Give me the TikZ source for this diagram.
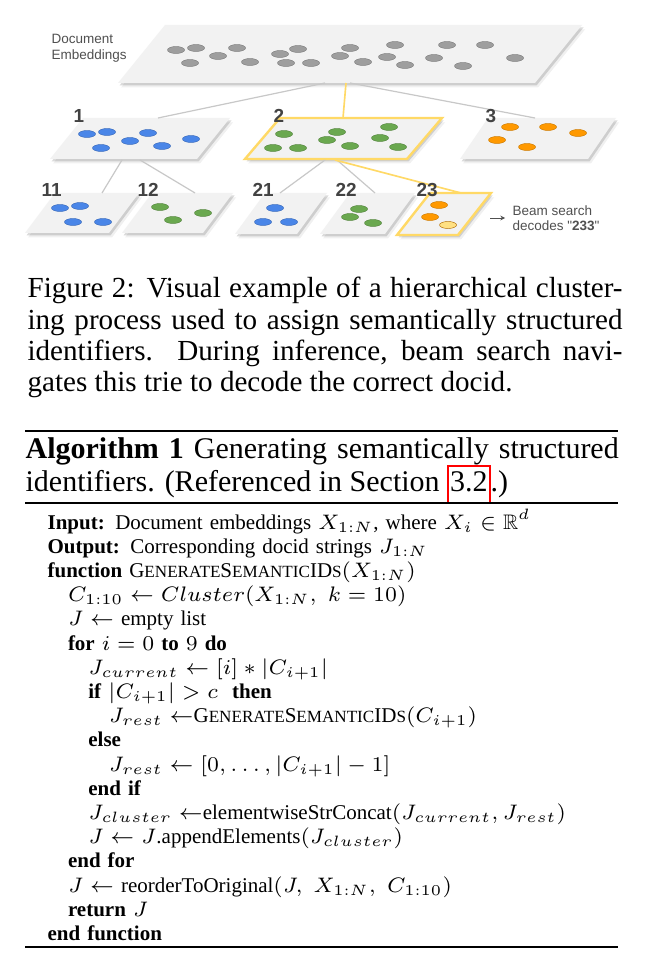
\documentclass[tikz,border=0pt]{standalone}
\usepackage{amsmath,amssymb}
\usepackage[no-math]{fontspec}
\setmainfont{Liberation Serif}
\newfontfamily\diagfont{Liberation Sans}
\usetikzlibrary{arrows.meta}

\definecolor{planegray}{HTML}{F2F2F2}
\definecolor{dotgray}{HTML}{9E9E9E}
\definecolor{dotblue}{HTML}{4A86E8}
\definecolor{dotgreen}{HTML}{6AA84F}
\definecolor{dotorange}{HTML}{FF9900}
\definecolor{dotyellow}{HTML}{FFE082}
\definecolor{hiyellow}{HTML}{FFD966}
\definecolor{linkgray}{HTML}{C8C8C8}
\definecolor{labelgray}{HTML}{424242}
\definecolor{notegray}{HTML}{505050}

\tikzset{
  plane/.style={fill=planegray},
  planeshadow/.style={fill=black, opacity=0.14},
  hilite/.style={draw=hiyellow, line width=0.8pt, line join=miter},
  link/.style={draw=linkgray, line width=0.4pt},
  hilink/.style={draw=hiyellow, line width=0.55pt},
  cluster/.style={fill=#1, draw=#1!80!black, line width=0.15pt},
  numlabel/.style={anchor=base west, inner sep=0, text=labelgray,
    font=\diagfont\bfseries\fontsize{6.3}{7}\selectfont},
  notetext/.style={anchor=base west, inner sep=0, text=notegray, align=left,
    font=\diagfont\fontsize{4.5}{5.33}\selectfont},
  captext/.style={anchor=base west, inner sep=0, text width=198.3pt, align=justify,
    font=\fontsize{9.7}{10.4}\selectfont},
  headtext/.style={anchor=base west, inner sep=0, text width=197.7pt, align=justify,
    font=\fontsize{10}{11}\selectfont},
  algtext/.style={anchor=base west, inner sep=0, text width=190pt, align=left,
    font=\fontsize{7}{8.07}\selectfont},
  toprule/.style={line width=0.8pt},
  thinrule/.style={line width=0.5pt},
  pointer/.style={draw=notegray, line width=0.3pt, -{Stealth[length=1.6pt,width=1.6pt]}}
}

% [style]{name}{x of bottom left}{y of bottom}{width}{height}{slant}
\newcommand{\clusterplane}[7][]{%
  \fill[planeshadow, opacity=0.06] (#3+3,#4+4.5) -- ++(#5,0) -- ++(#7,-#6) -- ++(-#5,0) -- cycle;
  \fill[planeshadow] (#3+1.5,#4+2.5) -- ++(#5,0) -- ++(#7,-#6) -- ++(-#5,0) -- cycle;
  \path[plane,#1] (#3,#4) coordinate (#2-bl) -- ++(#5,0) coordinate (#2-br)
    -- ++(#7,-#6) coordinate (#2-tr) -- ++(-#5,0) coordinate (#2-tl) -- cycle;
}
\newcommand{\fakesc}[1]{{\fontsize{5.7}{6}\selectfont\uppercase{#1}}}
\newcommand{\gensem}{G\fakesc{enerate}S\fakesc{emantic}ID\fakesc{s}}
\newlength{\algstep}
\setlength{\algstep}{6.8pt}
\newcommand{\ind}[1]{\hspace*{#1\algstep}}
\newcommand{\linkbox}[1]{{\setlength{\fboxsep}{0.4pt}\setlength{\fboxrule}{0.6pt}\fcolorbox{red}{white}{\strut#1}}}

\begin{document}
\begin{tikzpicture}[x=0.3333pt, y=-0.3333pt]
\fill[white] (0,0) rectangle (659,966);
\useasboundingbox (0,0) rectangle (659,966);

% cluster planes
\clusterplane{top}{118}{83}{417}{58}{47}
\clusterplane{c1}{50}{159}{147}{41}{33}
\clusterplane[hilite]{c2}{245}{159}{162}{41}{35}
\clusterplane{c3}{460}{159}{128}{41}{28}
\clusterplane{c11}{25}{233}{84}{40}{30}
\clusterplane{c12}{122}{233}{81}{40}{30}
\clusterplane{c21}{235}{234}{62}{41}{30}
\clusterplane{c22}{320}{234}{65}{41}{30}
\clusterplane[hilite]{c23}{397}{235}{61}{42}{33}

% connector ends
\coordinate (top-o1) at (325,83);  \coordinate (c1-in) at (158,118);
\coordinate (top-o2) at (346,83);  \coordinate (c2-in) at (343,118);
\coordinate (top-o3) at (350,83);  \coordinate (c3-in) at (535,118);
\coordinate (c1-o1) at (122,160);  \coordinate (c11-in) at (102,193);
\coordinate (c1-o2) at (140,160);  \coordinate (c12-in) at (195,193);
\coordinate (c2-o1) at (325,160);  \coordinate (c21-in) at (280,193);
\coordinate (c2-o2) at (337,160);  \coordinate (c22-in) at (375,193);
\coordinate (c2-o3) at (335,160);  \coordinate (c23-in) at (461,193);

\draw[link] (top-o1) -- (c1-in);
\draw[link] (top-o3) -- (c3-in);
\draw[hilink] (top-o2) -- (c2-in);
\draw[link] (c1-o1) -- (c11-in);
\draw[link] (c1-o2) -- (c12-in);
\draw[link] (c2-o1) -- (c21-in);
\draw[link] (c2-o2) -- (c22-in);
\draw[hilink] (c2-o3) -- (c23-in);

% embeddings
\foreach \x/\y in {176/50,196/48,190/63,218/56,237/48,250/62,280/54,298/49,286/63,311/63,
    350/48,340/56,363/62,395/45,387/57,405/65,434/58,447/45,463/66,485/45,515/58}
  \path[cluster=dotgray] (\x,\y) ellipse [x radius=8.5, y radius=3.5];
\foreach \x/\y in {87/134,107/132,101/148,130/141,148/133,162/146,191/139,
    60/208,80/206,73/222,103/222,275/208,263/222,289/222}
  \path[cluster=dotblue] (\x,\y) ellipse [x radius=8.5, y radius=3.5];
\foreach \x/\y in {284/134,273/148,298/148,337/132,327/140,350/146,389/127,380/138,398/147,
    160/207,173/220,203/213,359/209,350/217,373/223}
  \path[cluster=dotgreen] (\x,\y) ellipse [x radius=8.5, y radius=3.5];
\foreach \x/\y in {510/127,548/127,578/133,497/140,527/147,439/205,430/217}
  \path[cluster=dotorange] (\x,\y) ellipse [x radius=8.5, y radius=3.5];
\path[cluster=dotyellow, draw=dotorange!70!black] (448,225) ellipse [x radius=8.5, y radius=3.5];

% labels
\node[notetext] (docemb) at (51,60) {Document\\Embeddings};
\node[numlabel] (lab1) at (73,123) {1};
\node[numlabel] (lab2) at (273,123) {2};
\node[numlabel] (lab3) at (485,123) {3};
\node[numlabel] (lab11) at (41,197) {11};
\node[numlabel] (lab12) at (137,197) {12};
\node[numlabel] (lab21) at (252,197) {21};
\node[numlabel] (lab22) at (335,197) {22};
\node[numlabel] (lab23) at (416,197) {23};
\node[notetext] (beam) at (512,231) {Beam search\\decodes "\textbf{233}"};
\coordinate (arrtail) at (490,218);
\draw[pointer] (arrtail) -- (arrtail -| beam.west) [shorten >=2.3pt];

% caption
\node[captext] (caption) at (27,298) {Figure 2: Visual example of a hierarchical cluster-\linebreak
  ing process used to assign semantically structured\linebreak
  identifiers. During inference, beam search navi-\linebreak
  gates this trie to decode the correct docid.};

% algorithm
\draw[toprule] (25,431) -- (618,431);
\node[headtext] (alghead) at (25,458) {\textbf{Algorithm 1} Generating semantically structured\linebreak
  identifiers. (Referenced in Section \linkbox{3.2}.)};
\draw[thinrule] (25,503) -- (618,503);
\node[algtext] (algbody) at (47,529) {%
  \textbf{Input:} Document embeddings $X_{1:N}$, where $X_i \in \mathbb{R}^d$\\
  \textbf{Output:} Corresponding docid strings $J_{1:N}$\\
  \textbf{function} \gensem$(X_{1:N})$\\
  \ind{1}$C_{1:10} \leftarrow Cluster(X_{1:N},\ k=10)$\\
  \ind{1}$J \leftarrow$ empty list\\
  \ind{1}\textbf{for} $i=0$ \textbf{to} $9$ \textbf{do}\\
  \ind{2}$J_{current} \leftarrow [i] * |C_{i+1}|$\\
  \ind{2}\textbf{if} $|C_{i+1}| > c$ \ \textbf{then}\\
  \ind{3}$J_{rest} \leftarrow$\gensem$(C_{i+1})$\\
  \ind{2}\textbf{else}\\
  \ind{3}$J_{rest} \leftarrow [0,\ldots,|C_{i+1}|-1]$\\
  \ind{2}\textbf{end if}\\
  \ind{2}$J_{cluster} \leftarrow$elementwiseStrConcat$(J_{current}, J_{rest})$\\
  \ind{2}$J \leftarrow J$.appendElements$(J_{cluster})$\\
  \ind{1}\textbf{end for}\\
  \ind{1}$J \leftarrow$ reorderToOriginal$(J,\ X_{1:N},\ C_{1:10})$\\
  \ind{1}\textbf{return} $J$\\
  \textbf{end function}};
\draw[thinrule] (25,947) -- (618,947);
\end{tikzpicture}
\end{document}
